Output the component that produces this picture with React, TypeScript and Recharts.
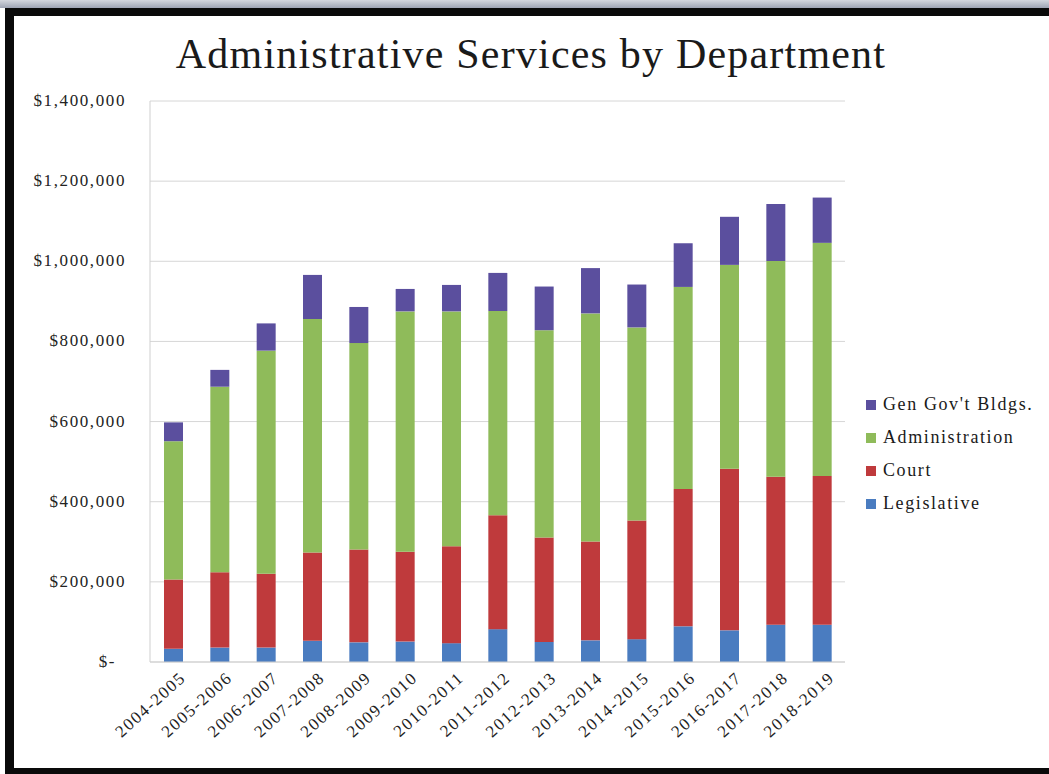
import React from 'react'
import { BarChart, Bar, XAxis, YAxis, CartesianGrid, Legend } from 'recharts'

const categories = [
  '2004-2005', '2005-2006', '2006-2007', '2007-2008', '2008-2009',
  '2009-2010', '2010-2011', '2011-2012', '2012-2013', '2013-2014',
  '2014-2015', '2015-2016', '2016-2017', '2017-2018', '2018-2019',
]
const legislative = [33000, 36000, 36000, 53000, 49000, 51000, 47000, 82000, 50000, 54000, 57000, 89000, 79000, 93000, 93000]
const court = [173000, 188000, 184000, 220000, 232000, 224000, 242000, 284000, 261000, 247000, 296000, 343000, 403000, 369000, 371000]
const administration = [345000, 463000, 557000, 583000, 515000, 600000, 586000, 510000, 517000, 569000, 482000, 504000, 509000, 539000, 582000]
const genGovBldgs = [47000, 42000, 68000, 110000, 90000, 56000, 66000, 95000, 109000, 113000, 107000, 109000, 120000, 142000, 113000]
const yTicks = [0, 200000, 400000, 600000, 800000, 1000000, 1200000, 1400000]
// legend reads top to bottom, opposite of the stacking order
const legendOrder = ["Gen Gov't Bldgs.", 'Administration', 'Court', 'Legislative']

const data = categories.map((name, i) => ({
  name,
  legislative: legislative[i],
  court: court[i],
  administration: administration[i],
  genGov: genGovBldgs[i],
}))

const FONT = '"Liberation Serif", "Times New Roman", serif'

const fmtMoney = (v: number) => (v === 0 ? '$-' : '$' + v.toLocaleString('en-US'))

// y tick: "$-" sits a bit further left like Excel's accounting format
const YTick = (props: any) => {
  const { x, y, payload } = props
  const v = payload.value as number
  return (
    <text
      x={v === 0 ? x - 10 : x}
      y={y}
      dy={5}
      textAnchor="end"
      fill="#222"
      style={{ fontFamily: FONT, fontSize: 17, letterSpacing: 1.6 }}
    >
      {fmtMoney(v)}
    </text>
  )
}

const XTick = (props: any) => {
  const { x, y, payload } = props
  return (
    <g transform={`translate(${x + 9},${y + 4})`}>
      <text
        x={0}
        y={0}
        dy={7}
        textAnchor="end"
        fill="#222"
        transform="rotate(-42)"
        style={{ fontFamily: FONT, fontSize: 17, letterSpacing: 1.6 }}
      >
        {payload.value}
      </text>
    </g>
  )
}

const renderLegend = (props: any) => {
  const items = [...(props.payload || [])].sort(
    (a: any, b: any) => legendOrder.indexOf(a.value) - legendOrder.indexOf(b.value)
  )
  return (
    <div style={{ fontFamily: FONT }}>
      {items.map((it: any) => (
        <div key={it.value} style={{ display: 'flex', alignItems: 'center', height: 33 }}>
          <span style={{ width: 10, height: 10, background: it.color, display: 'inline-block', marginRight: 7 }} />
          <span style={{ fontSize: 18, letterSpacing: 1.6, color: '#1a1a1a' }}>{it.value}</span>
        </div>
      ))}
    </div>
  )
}

export default function App() {
  return (
    <div style={{ position: 'absolute', left: 0, top: 0, width: 1049, height: 774, background: '#fff', overflow: 'hidden' }}>
      <div style={{ position: 'absolute', left: 0, top: 0, width: 1049, height: 8, background: 'linear-gradient(#d4d7de, #9ea4b4)' }} />
      <div
        style={{
          position: 'absolute', left: 5, top: 8, width: 1060, height: 766, boxSizing: 'border-box',
          borderTop: '8px solid #0a0a0a', borderLeft: '9px solid #0a0a0a', borderBottom: '6px solid #0a0a0a',
        }}
      />
      <div
        style={{
          position: 'absolute', left: 0, top: 30, width: 1062, textAlign: 'center',
          fontFamily: FONT, fontSize: 42, letterSpacing: 1.2, color: '#1a1a1a',
        }}
      >
        Administrative Services by Department
      </div>
      <div style={{ position: 'absolute', left: 0, top: 0 }}>
        <BarChart
          width={1049}
          height={774}
          data={data}
          margin={{ top: 101, right: 204, bottom: 0, left: 0 }}
          barSize={19}
        >
          <CartesianGrid vertical={false} stroke="#d6d6d6" />
          <XAxis
            dataKey="name"
            interval={0}
            stroke="#cfcfcf"
            tickLine={false}
            tick={<XTick />}
            height={112}
          />
          <YAxis
            width={150}
            domain={[0, 1400000]}
            ticks={yTicks}
            stroke="#cfcfcf"
            tickLine={false}
            tickSize={0}
            tickMargin={24}
            tick={<YTick />}
          />
          <Legend
            layout="vertical"
            align="center"
            verticalAlign="middle"
            content={renderLegend}
            wrapperStyle={{ left: 866, top: 388, width: 180 }}
          />
          <Bar dataKey="legislative" name="Legislative" stackId="a" fill="#4a7cc0" isAnimationActive={false} />
          <Bar dataKey="court" name="Court" stackId="a" fill="#bf3a3c" isAnimationActive={false} />
          <Bar dataKey="administration" name="Administration" stackId="a" fill="#8fbb5a" isAnimationActive={false} />
          <Bar dataKey="genGov" name="Gen Gov't Bldgs." stackId="a" fill="#5b4f9e" isAnimationActive={false} />
        </BarChart>
      </div>
    </div>
  )
}
